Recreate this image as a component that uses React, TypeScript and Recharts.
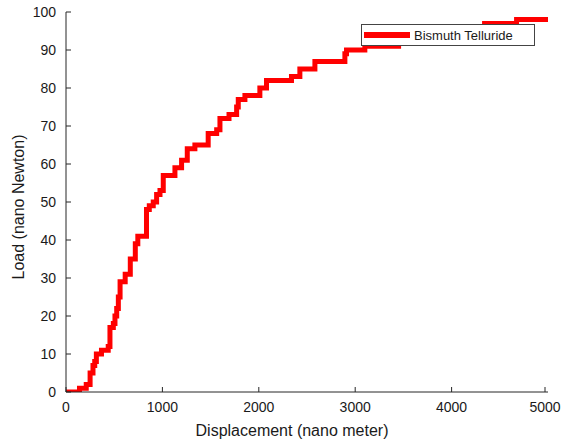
import React from 'react';
import { LineChart, Line, XAxis, YAxis, Legend, Label } from 'recharts';

// displacement (nm) where each new load level starts
const displacement = [
  0, 140, 210, 250, 280, 298, 315, 368, 438, 456, 491, 508, 526, 543, 561,
  614, 667, 719, 745, 835, 864, 905, 940, 975, 1009, 1130, 1199, 1258, 1337,
  1475, 1563, 1597, 1691, 1770, 1787, 1856, 2011, 2080, 2339, 2426, 2582,
  2893, 2910, 3100, 3450, 3650, 3850, 4050, 4200, 4342, 4674, 5000,
];
const load = [
  0, 1, 2, 5, 7, 8, 10, 11, 12, 17, 18, 20, 22, 25, 29,
  31, 35, 39, 41, 48, 49, 50, 52, 53, 57, 59, 61, 64, 65,
  68, 69, 72, 73, 75, 77, 78, 80, 82, 83, 85, 87,
  89, 90, 91, 92, 93, 94, 95, 96, 97, 98, 98,
];
const xTicks = [0, 1000, 2000, 3000, 4000, 5000];
const yTicks = [0, 10, 20, 30, 40, 50, 60, 70, 80, 90, 100];
const seriesName = 'Bismuth Telluride';

const data = displacement.map((d, i) => ({ displacement: d, load: load[i] }));

const AXIS = '#262626';
const TEXT = '#1a1a1a';
const FONT = '"Liberation Sans", Arial, Helvetica, sans-serif';
const TICK_LEN = 5;

// MATLAB style: ticks point into the plot box
const BottomTick = ({ x, y, payload }: any) => (
  <g>
    <line x1={x} y1={y} x2={x} y2={y - TICK_LEN} stroke={AXIS} />
    <text x={x} y={y + 20} textAnchor="middle" fontSize={14} fill={TEXT} fontFamily={FONT}>
      {payload.value}
    </text>
  </g>
);

const LeftTick = ({ x, y, payload }: any) => (
  <g>
    <line x1={x} y1={y} x2={x + TICK_LEN} y2={y} stroke={AXIS} />
    <text x={x - 10} y={y + 5} textAnchor="end" fontSize={14} fill={TEXT} fontFamily={FONT}>
      {payload.value}
    </text>
  </g>
);

const TopTick = ({ x, y }: any) => (
  <line x1={x} y1={y} x2={x} y2={y + TICK_LEN} stroke={AXIS} />
);

const RightTick = ({ x, y }: any) => (
  <line x1={x} y1={y} x2={x - TICK_LEN} y2={y} stroke={AXIS} />
);

const LegendBox = ({ payload }: any) => (
  <div
    style={{
      boxSizing: 'border-box',
      width: 174,
      height: 22,
      border: '1px solid #444',
      background: '#fff',
      display: 'flex',
      alignItems: 'center',
      fontFamily: FONT,
      fontSize: 13,
      color: TEXT,
    }}
  >
    {(payload || []).map((p: any) => (
      <React.Fragment key={p.value}>
        <span style={{ display: 'inline-block', width: 46, height: 6, background: p.color, marginLeft: 2, marginRight: 4 }} />
        <span>{p.value}</span>
      </React.Fragment>
    ))}
  </div>
);

export default function App() {
  return (
    <div style={{ position: 'absolute', left: 0, top: 0, width: 561, height: 439, background: '#fff' }}>
      <LineChart width={561} height={439} data={data} margin={{ top: 12, right: 13, bottom: 0, left: 0 }}>
        <XAxis
          dataKey="displacement"
          type="number"
          domain={[0, 5000]}
          ticks={xTicks}
          height={47}
          tickSize={0}
          tickMargin={0}
          tick={<BottomTick />}
          axisLine={{ stroke: AXIS }}
          allowDataOverflow
        >
          <Label
            content={({ viewBox }: any) => (
              <text
                x={viewBox.x + viewBox.width / 2 - 15}
                y={viewBox.y + 44}
                textAnchor="middle"
                fontSize={16}
                fill={TEXT}
                fontFamily={FONT}
              >
                Displacement (nano meter)
              </text>
            )}
          />
        </XAxis>
        <XAxis
          xAxisId="top"
          orientation="top"
          dataKey="displacement"
          type="number"
          domain={[0, 5000]}
          ticks={xTicks}
          height={0}
          tickSize={0}
          tickMargin={0}
          tick={<TopTick />}
          axisLine={{ stroke: AXIS }}
        />
        <YAxis
          type="number"
          domain={[0, 100]}
          ticks={yTicks}
          width={66}
          tickSize={0}
          tickMargin={0}
          tick={<LeftTick />}
          axisLine={{ stroke: AXIS }}
          allowDataOverflow
        >
          <Label
            content={({ viewBox }: any) => {
              const cx = 18;
              const cy = viewBox.y + viewBox.height / 2 + 5;
              return (
                <text
                  x={cx}
                  y={cy}
                  transform={`rotate(-90 ${cx} ${cy})`}
                  textAnchor="middle"
                  dominantBaseline="central"
                  fontSize={16}
                  fill={TEXT}
                  fontFamily={FONT}
                >
                  Load (nano Newton)
                </text>
              );
            }}
          />
        </YAxis>
        <YAxis
          yAxisId="right"
          orientation="right"
          type="number"
          domain={[0, 100]}
          ticks={yTicks}
          width={0}
          tickSize={0}
          tickMargin={0}
          tick={<RightTick />}
          axisLine={{ stroke: AXIS }}
        />
        <Legend
          layout="vertical"
          verticalAlign="middle"
          align="center"
          content={<LegendBox />}
          wrapperStyle={{ top: 24, left: 361, width: 174, height: 22 }}
        />
        <Line
          type="stepAfter"
          dataKey="load"
          name={seriesName}
          stroke="#ff0000"
          strokeWidth={5}
          dot={false}
          activeDot={false}
          isAnimationActive={false}
        />
      </LineChart>
    </div>
  );
}
